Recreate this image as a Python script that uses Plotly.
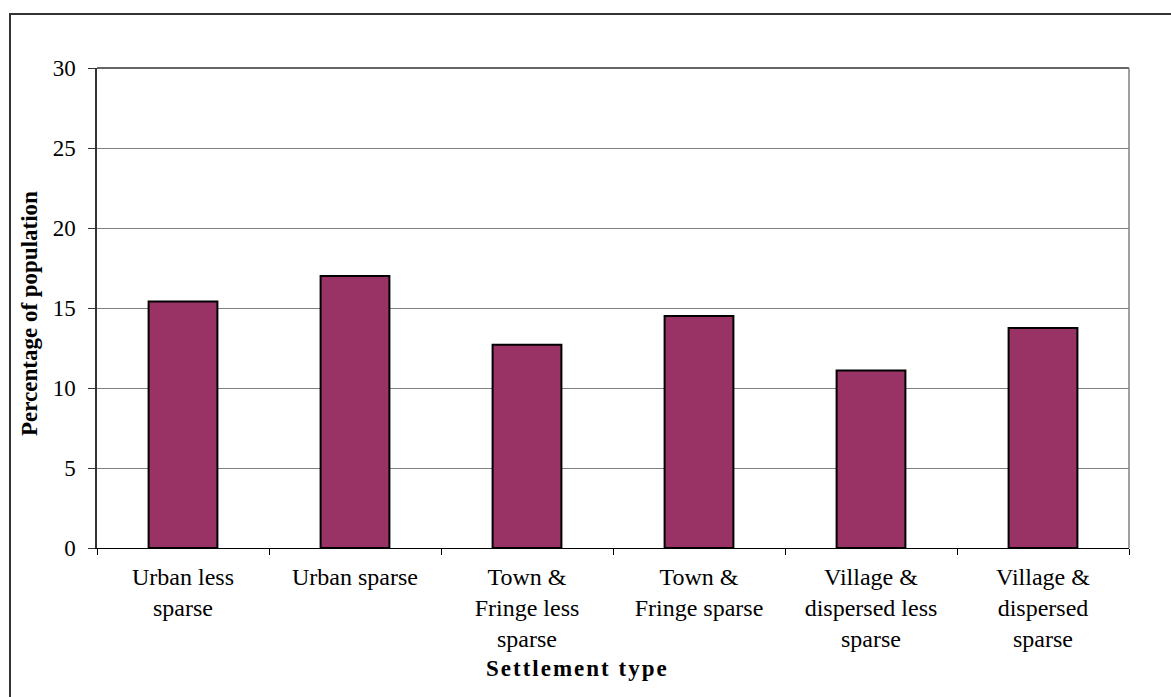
import plotly.graph_objects as go

# Share of population by settlement type (%)
categories = [
    "Urban less<br>sparse",
    "Urban sparse",
    "Town &<br>Fringe less<br>sparse",
    "Town &<br>Fringe sparse",
    "Village &<br>dispersed less<br>sparse",
    "Village &<br>dispersed<br>sparse",
]
percentages = [15.4, 17.0, 12.7, 14.5, 11.1, 13.75]
y_ticks = [0, 5, 10, 15, 20, 25, 30]

W, H = 1171, 697
L, R, T, B = 97, 42, 68, 149
pw, ph = W - L - R, H - T - B

def px_x(x):
    return (x - L) / pw

def px_y(y):
    return (H - B - y) / ph

serif = "Liberation Serif, Times New Roman, serif"

fig = go.Figure(
    go.Bar(
        x=categories,
        y=percentages,
        width=0.4,
        marker=dict(color="#993366", line=dict(color="#000000", width=2)),
    )
)

fig.update_layout(
    width=W,
    height=H,
    margin=dict(l=L, r=R, t=T, b=B),
    paper_bgcolor="white",
    plot_bgcolor="white",
    showlegend=False,
    font=dict(family=serif, color="#000000", size=20),
    xaxis=dict(
        type="category",
        tickson="boundaries",
        ticks="outside",
        ticklen=6,
        tickcolor="#000000",
        showline=True,
        linecolor="#000000",
        linewidth=1,
        mirror=False,
        showgrid=False,
        tickfont=dict(family=serif, size=24),
        ticklabelstandoff=7,
    ),
    yaxis=dict(
        range=[0, 30],
        tickvals=y_ticks,
        ticks="outside",
        ticklen=7,
        tickcolor="#333333",
        showline=True,
        linecolor="#333333",
        linewidth=1.5,
        showgrid=True,
        gridcolor="#808080",
        gridwidth=1,
        zeroline=False,
        tickfont=dict(family=serif, size=23),
        ticklabelstandoff=8,
    ),
    shapes=[
        # plot area frame (top and right)
        dict(type="line", xref="paper", yref="paper", x0=0, x1=1, y0=1, y1=1,
             line=dict(color="#333333", width=1.5)),
        dict(type="line", xref="paper", yref="paper", x0=1, x1=1, y0=0, y1=1,
             line=dict(color="#808080", width=1.5)),
        # outer chart border
        dict(type="rect", xref="paper", yref="paper",
             x0=px_x(10), x1=px_x(1190), y0=px_y(14), y1=px_y(720),
             line=dict(color="#333333", width=2), fillcolor="rgba(0,0,0,0)"),
    ],
    annotations=[
        dict(text="<b>Settlement type</b>", xref="paper", yref="paper",
             x=px_x(577), y=px_y(668), xanchor="center", yanchor="middle",
             showarrow=False, font=dict(family=serif, size=23)),
        dict(text="<b>Percentage of population</b>", xref="paper", yref="paper",
             x=px_x(29), y=px_y(314), xanchor="center", yanchor="middle",
             textangle=-90, showarrow=False, font=dict(family=serif, size=23)),
    ],
)

# Widen the letter spacing of the x-axis title
spacing_js = """
document.querySelectorAll('.annotation-text').forEach(function (t) {
  if (t.textContent === 'Settlement type') {
    t.style.letterSpacing = '2px';
  }
});
"""

fig.write_html("out.html", post_script=spacing_js)
